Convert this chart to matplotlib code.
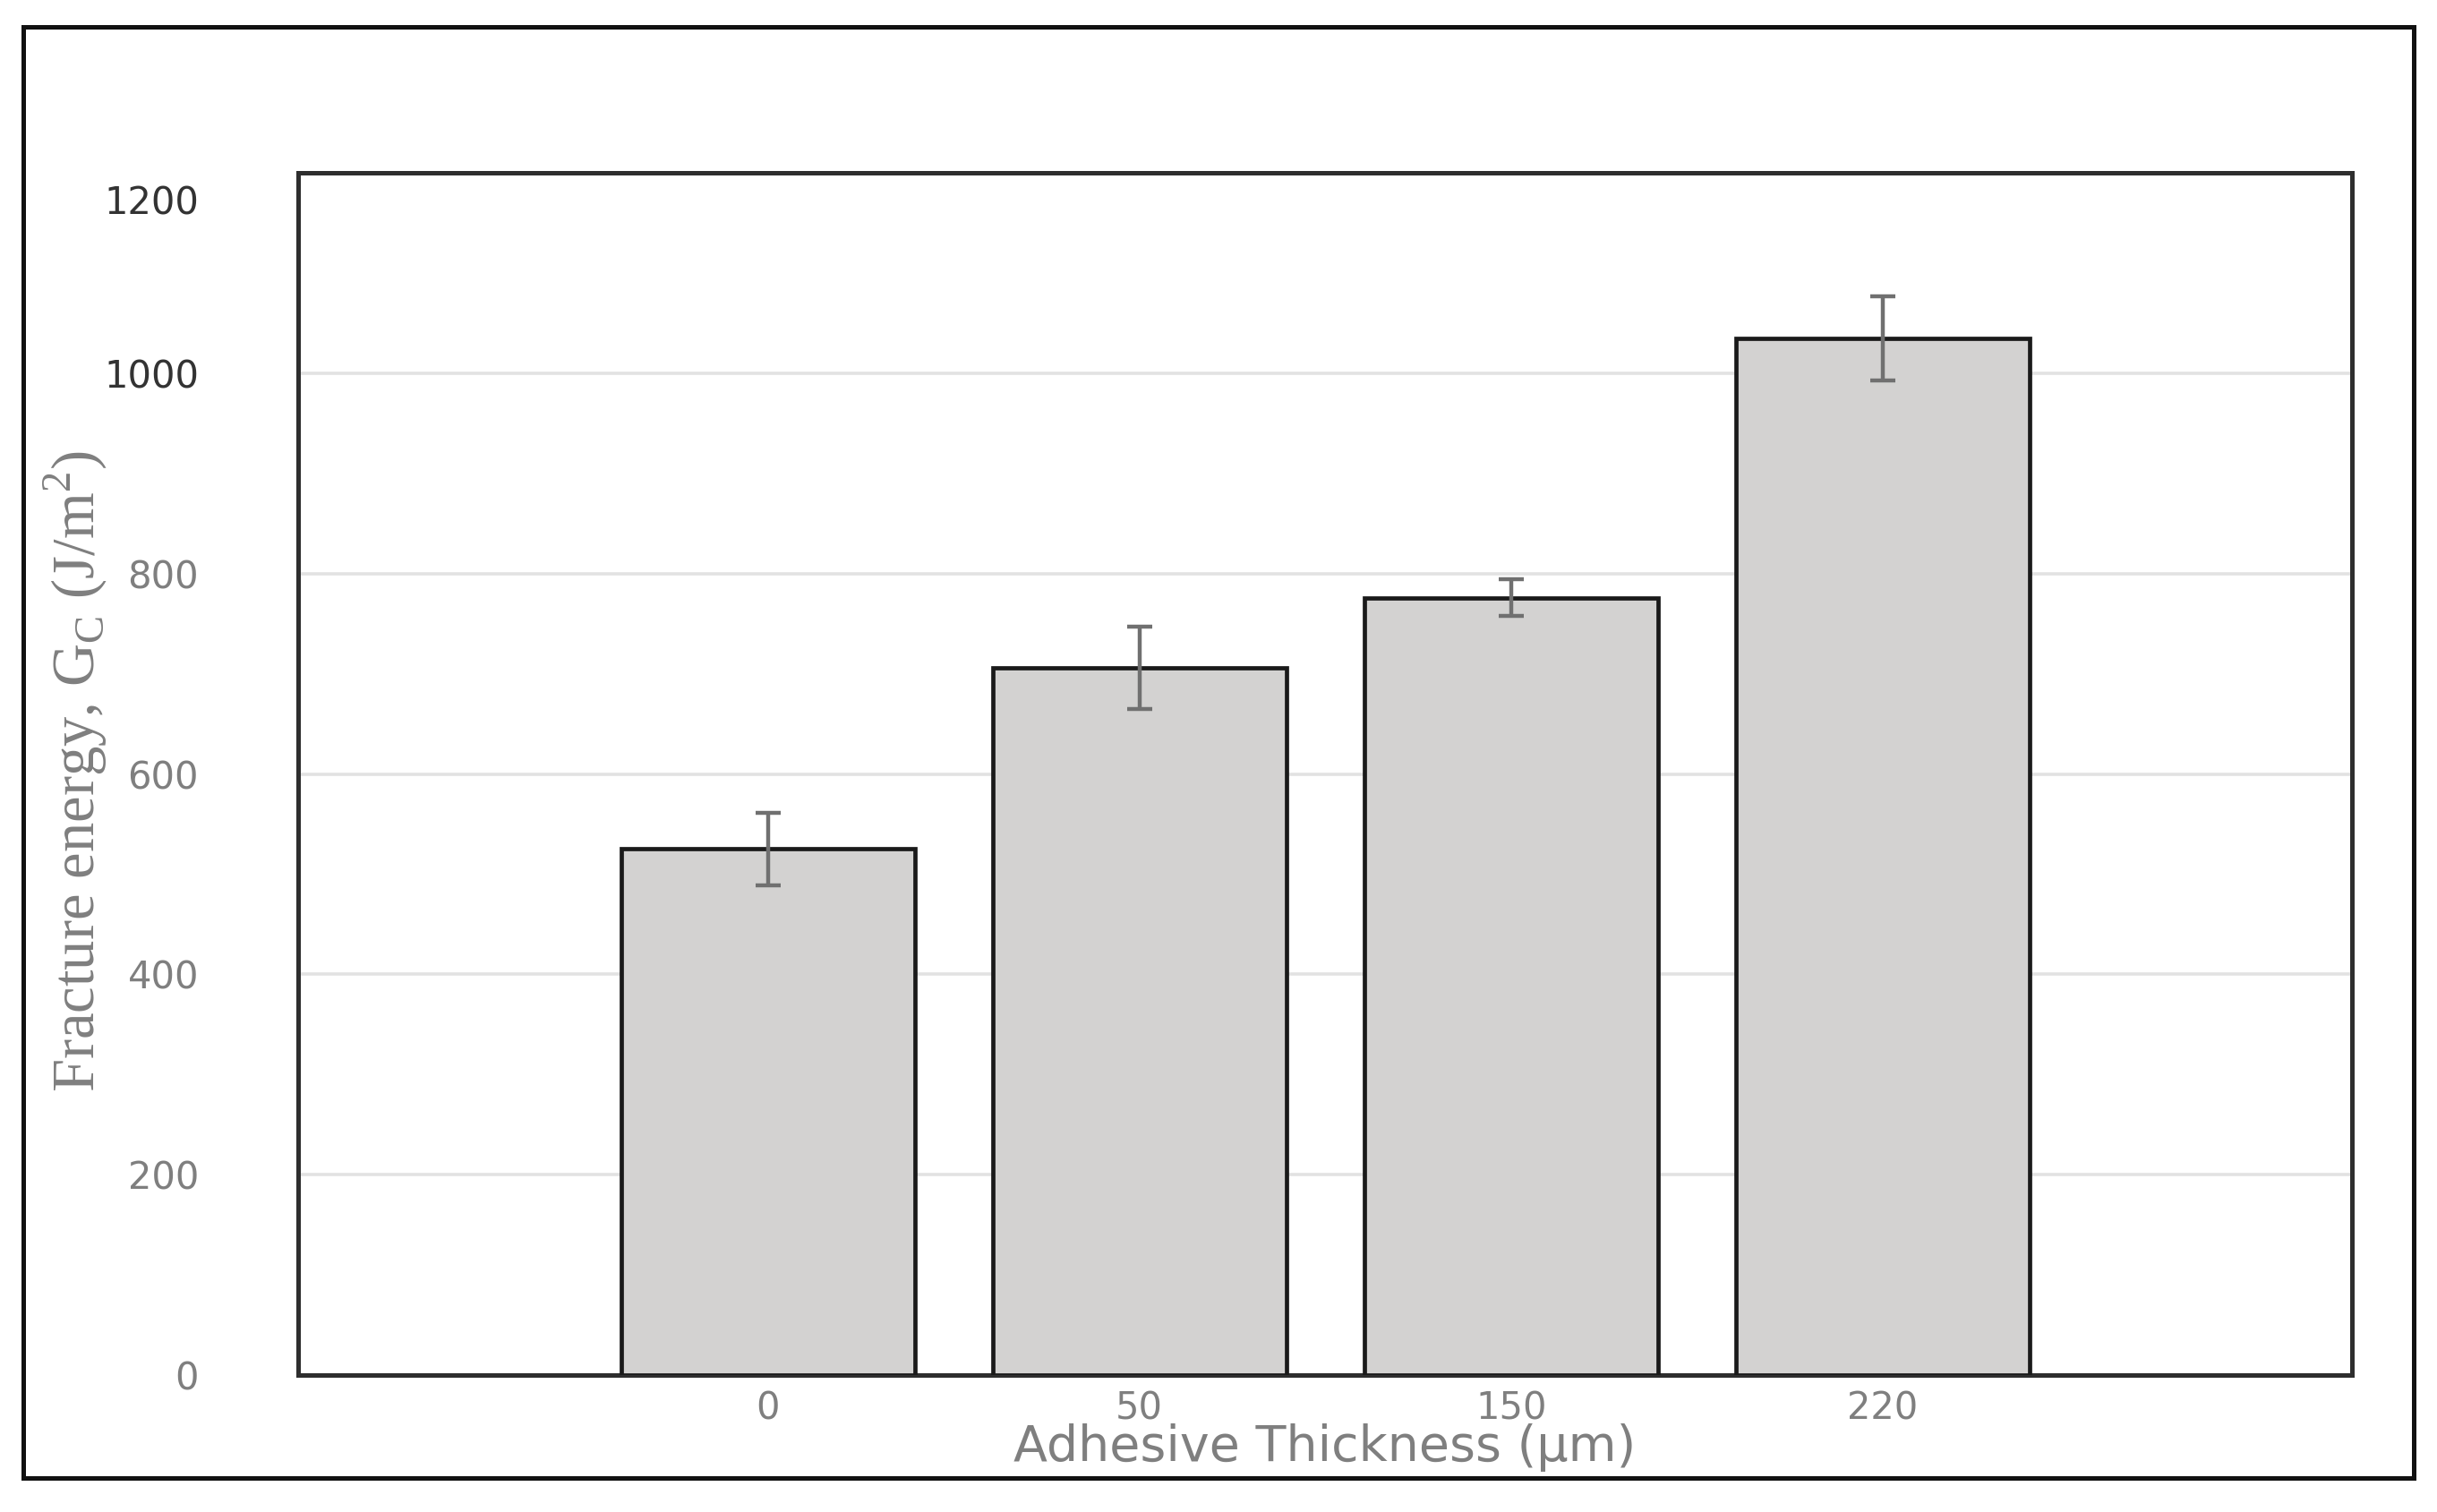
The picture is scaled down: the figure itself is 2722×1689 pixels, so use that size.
import matplotlib.pyplot as plt
from matplotlib.patches import Rectangle
from matplotlib.transforms import ScaledTranslation

# data
thickness_labels = ['0', '50', '150', '220']
fracture_energy = [525, 706, 776, 1035]
energy_error = [36, 41, 18, 42]

y_ticks = [0, 200, 400, 600, 800, 1000, 1200]
y_tick_colors = ['#7f7f7f'] * 5 + ['#333333', '#333333']

fig = plt.figure(figsize=(27.22, 16.89), dpi=100)
ax = fig.add_axes([0.1224, 0.0906, 0.8427, 0.7951])

pos = list(range(len(thickness_labels)))
ax.bar(pos, fracture_energy, width=0.79, color='#d3d2d1',
       edgecolor='#1a1a1a', linewidth=3.4, zorder=3)
ax.errorbar(pos, fracture_energy, yerr=energy_error, fmt='none',
            ecolor='#707070', elinewidth=3.2, capsize=10, capthick=3.2,
            zorder=4)

ax.set_xlim(-1.263, 4.262)
ax.set_ylim(0, 1200)
ax.set_xticks(pos)
ax.set_xticklabels(thickness_labels, fontsize=30, color='#7f7f7f')
ax.set_yticks(y_ticks)
ax.set_yticklabels([str(v) for v in y_ticks], fontsize=30)
for lbl, c in zip(ax.get_yticklabels(), y_tick_colors):
    lbl.set_color(c)
ax.tick_params(axis='y', length=0, pad=80)
ax.tick_params(axis='x', length=0, pad=12)

# the 1200 label sits a little below its gridline in the original
top_lbl = ax.get_yticklabels()[-1]
top_lbl.set_transform(top_lbl.get_transform() +
                      ScaledTranslation(0, -0.3, fig.dpi_scale_trans))

ax.yaxis.grid(True, color='#e2e2e2', linewidth=2.6, zorder=0)
ax.set_axisbelow(True)
for s in ax.spines.values():
    s.set_linewidth(3.6)
    s.set_color('#2e2e2e')

ax.set_xlabel('Adhesive Thickness (µm)', fontsize=40, color='#7f7f7f',
              va='center')
ax.xaxis.set_label_coords(0.5, -0.0603)

ax.set_ylabel(r'Fracture energy, G$_\mathregular{C}$ (J/m$^\mathregular{2}$)',
              fontsize=48, color='#7f7f7f', family='Liberation Serif',
              va='center', ha='center')
ax.yaxis.set_label_coords(-0.1085, 0.502)

# outer frame around the whole figure
fig.patches.append(Rectangle((26 / 2722, 1 - 1651 / 1689),
                             (2696 - 26) / 2722, (1651 - 30) / 1689,
                             transform=fig.transFigure, fill=False,
                             edgecolor='#111111', linewidth=3.6))

fig.savefig('out.png', dpi=100)
